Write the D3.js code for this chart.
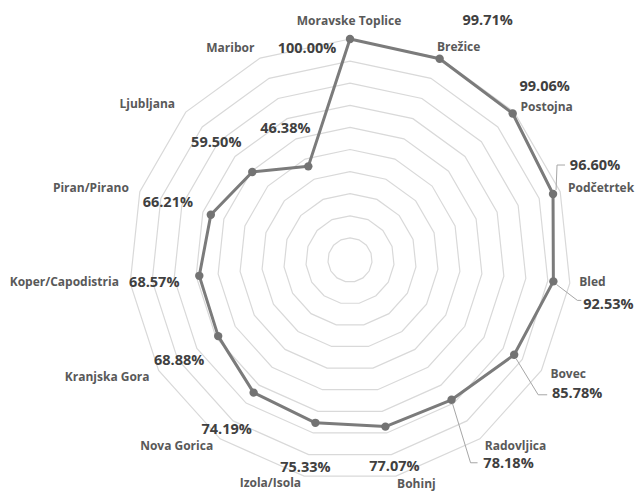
<!DOCTYPE html>
<html>
<head>
<meta charset="utf-8">
<script src="https://cdn.jsdelivr.net/npm/d3@7/dist/d3.min.js"></script>
<style>
  html, body { margin: 0; padding: 0; background: #ffffff; }
  svg { display: block; }
  .cat { font-family: "Open Sans", "Noto Sans", sans-serif; font-weight: 700; font-size: 12px; fill: #595959; }
  .val { font-family: "Open Sans", "Noto Sans", sans-serif; font-weight: 700; font-size: 14.5px; fill: #404040; }
</style>
</head>
<body>
<svg id="chart" width="637" height="492"></svg>
<script>
// Destinations around the radar, clockwise from the top
const categories = [
  "Moravske Toplice", "Brežice", "Postojna", "Podčetrtek", "Bled",
  "Bovec", "Radovljica", "Bohinj", "Izola/Isola", "Nova Gorica",
  "Kranjska Gora", "Koper/Capodistria", "Piran/Pirano", "Ljubljana", "Maribor"
];
// Share per destination, in percent
const values = [
  100.00, 99.71, 99.06, 96.60, 92.53,
  85.78, 78.18, 77.07, 75.33, 74.19,
  68.88, 68.57, 66.21, 59.50, 46.38
];
// Ring levels of the grid
const gridLevels = [10, 20, 30, 40, 50, 60, 70, 80, 90, 100];

// Label placement, as offsets from each data point
const valueLabelOffset = [
  [-43, 8], [48, -39], [32, -28], [42, -30], [55, 22],
  [63, 38], [57, 63], [9, 39], [-10, 44], [-27, 36],
  [-39, 23], [-45, 6], [-43, -13], [-36, -31], [-23, -39]
];
const catLabelOffset = [
  [-1, -19], [19, -12], [34, -7], [48, -7], [39, 0],
  [54, 19], [64, 46], [31, 57], [-45, 60], [-77, 53],
  [-111, 40], [-135, 6], [-120, -27], [-105, -69], [-78, -119]
];
// Leader lines (start, knee, end) as offsets from the data point
const leaders = {
  3: [[3, -4], [4, -29], [12, -29]],
  4: [[3, 3], [24, 19], [28, 19]],
  5: [[2, 4], [24, 40], [33, 40]],
  6: [[1, 4], [19, 63], [26, 63]]
};

const cx = 350, cy = 260, R = 221;
const svg = d3.select("#chart");
const g = svg.append("g").attr("transform", `translate(${cx},${cy})`);

const r = d3.scaleLinear().domain([0, 100]).range([0, R]);
const angle = d3.scalePoint().domain(d3.range(categories.length + 1)).range([0, 2 * Math.PI]);
const px = (i, v) => r(v) * Math.sin(angle(i));
const py = (i, v) => -r(v) * Math.cos(angle(i));

// Grid polygons
gridLevels.forEach(lv => {
  const ring = categories.map((c, i) => [px(i, lv), py(i, lv)]);
  g.append("path")
    .attr("d", d3.line()(ring) + "Z")
    .attr("fill", "none")
    .attr("stroke", "#d9d9d9")
    .attr("stroke-width", 1.2);
});

// Series line
const pts = values.map((v, i) => [px(i, v), py(i, v)]);
g.append("path")
  .attr("d", d3.line()(pts) + "Z")
  .attr("fill", "none")
  .attr("stroke", "#7b7b7b")
  .attr("stroke-width", 3)
  .attr("stroke-linejoin", "round");

// Markers
g.selectAll("circle.pt")
  .data(values)
  .join("circle")
  .attr("class", "pt")
  .attr("cx", (v, i) => px(i, v))
  .attr("cy", (v, i) => py(i, v))
  .attr("r", 4.2)
  .attr("fill", "#737373");

// Leader lines
Object.keys(leaders).forEach(k => {
  const i = +k, x0 = px(i, values[i]), y0 = py(i, values[i]);
  g.append("path")
    .attr("d", d3.line()(leaders[k].map(([dx, dy]) => [x0 + dx, y0 + dy])))
    .attr("fill", "none")
    .attr("stroke", "#a6a6a6")
    .attr("stroke-width", 1);
});

// Value labels
g.selectAll("text.val")
  .data(values)
  .join("text")
  .attr("class", "val")
  .attr("x", (v, i) => px(i, v) + valueLabelOffset[i][0])
  .attr("y", (v, i) => py(i, v) + valueLabelOffset[i][1])
  .attr("text-anchor", "middle")
  .attr("dominant-baseline", "central")
  .text(v => v.toFixed(2) + "%");

// Category labels
g.selectAll("text.cat")
  .data(categories)
  .join("text")
  .attr("class", "cat")
  .attr("x", (c, i) => px(i, values[i]) + catLabelOffset[i][0])
  .attr("y", (c, i) => py(i, values[i]) + catLabelOffset[i][1])
  .attr("text-anchor", "middle")
  .attr("dominant-baseline", "central")
  .text(c => c);
</script>
</body>
</html>
